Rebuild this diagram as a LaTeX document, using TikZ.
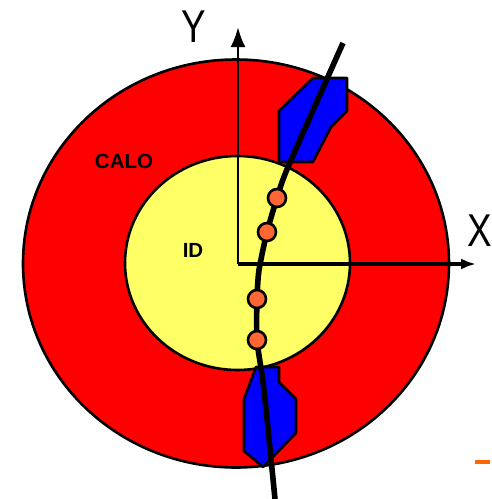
\documentclass[tikz,border=0pt]{standalone}
\usepackage{fontspec}
\setmainfont{Liberation Sans}
\usetikzlibrary{arrows.meta,positioning,shapes.geometric}
\definecolor{caloRed}{RGB}{255,0,0}
\definecolor{idYellow}{RGB}{255,255,102}
\definecolor{hitOrange}{RGB}{255,102,51}
\definecolor{dashOrange}{RGB}{255,102,0}
\definecolor{muonBlue}{RGB}{0,0,255}

\begin{document}
\begin{tikzpicture}[
  x=1pt,y=-1pt,
  layer/.style={draw,line width=2.6pt},
  chamber/.style={draw,fill=muonBlue,line width=2.6pt,line join=round},
  axis/.style={-{Latex[length=20pt,width=15pt]},line width=2.8pt},
  hit/.style={circle,draw,fill=hitOrange,line width=2.6pt,minimum size=18pt,inner sep=0pt},
  lbl/.style={font=\fontsize{20.5}{22}\selectfont\bfseries,inner sep=0pt},
  axlbl/.style={font=\fontsize{46}{48}\selectfont,inner sep=0pt,xscale=0.8}
]
\useasboundingbox (0,0) rectangle (492,499);
\fill[white] (0,0) rectangle (492,499);
% layers
\draw[layer,fill=caloRed] (236,263.5) ellipse [x radius=213,y radius=204];
\draw[layer,fill=idYellow] (237.5,263) ellipse [x radius=112.5,y radius=107];
% chambers
\draw[chamber] (313,78) -- (347,78) -- (347,111) -- (331,127) -- (313,162)
  -- (279,162) -- (279,111) -- cycle;
\draw[chamber] (256,367) -- (279,367) -- (279,382) -- (296,399) -- (296,433)
  -- (263,467) -- (244,451) -- (244,399) -- cycle;
\node[lbl] (calo) at (124,161) {CALO};
\node[lbl] (id) at (193,250) {ID};
% axes
\coordinate (origin) at (238,264);
\coordinate (ytip) at (238,27);
\coordinate (xtip) at (476,264);
\draw[axis] (origin) -- (ytip);
\draw[axis,line width=3.4pt,-{Latex[length=15pt,width=11pt]}] (origin) -- (xtip);
\node[axlbl] (ylab) at (194,26.5) {Y};
\node[axlbl] (xlab) at (479.7,231) {X};
% track
\coordinate (trackin) at (343,43);
\coordinate (hita) at (277,198);
\coordinate (hitb) at (267,232);
\coordinate (hitc) at (257,299);
\coordinate (hitd) at (257,340);
\coordinate (trackout) at (275,499);
\draw[line width=5.6pt] plot[smooth,tension=0.4] coordinates
  {(trackin) (288,167) (hita) (hitb) (259,270) (hitc) (hitd) (264,390) (trackout)};
\node[hit] (a) at (hita) {};
\node[hit] (b) at (hitb) {};
\node[hit] (c) at (hitc) {};
\node[hit] (d) at (hitd) {};
\fill[dashOrange] (475,460) rectangle (490,464);
\end{tikzpicture}
\end{document}
